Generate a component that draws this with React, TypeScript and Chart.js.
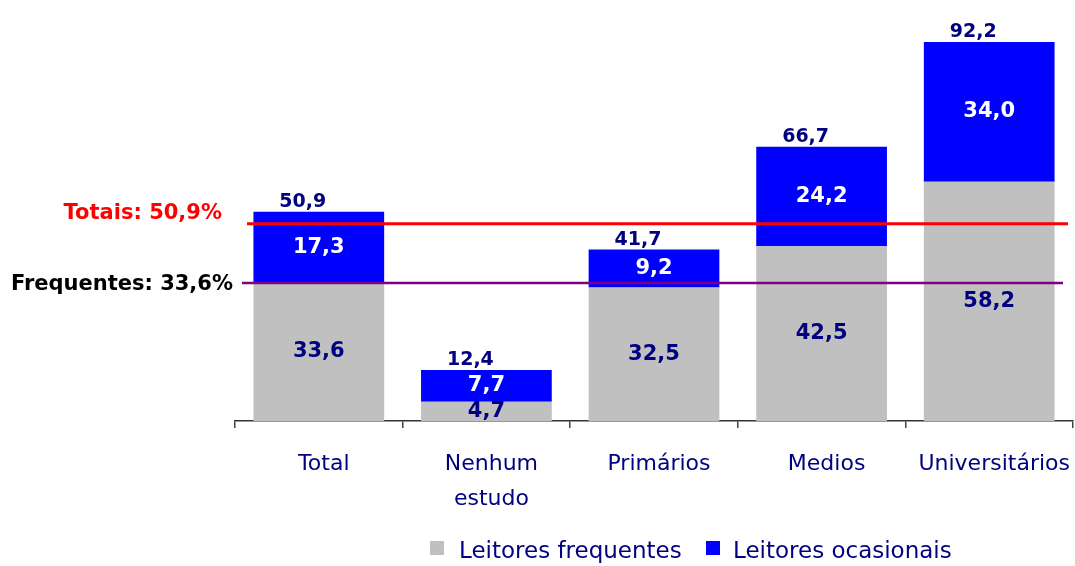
import React, { useEffect, useRef } from "react";
import { Chart, registerables } from "chart.js";

Chart.register(...registerables);

const categories = ["Total", "Nenhum estudo", "Primários", "Medios", "Universitários"];
const categoryLines = [["Total"], ["Nenhum", "estudo"], ["Primários"], ["Medios"], ["Universitários"]];
const frequentes = [33.6, 4.7, 32.5, 42.5, 58.2];
const ocasionais = [17.3, 7.7, 9.2, 24.2, 34.0];
const totals = [50.9, 12.4, 41.7, 66.7, 92.2];
const seriesNames = ["Leitores frequentes", "Leitores ocasionais"];
const totalLineValue = 48.0;
const frequentLineValue = 33.6;
const totalLineLabel = "Totais: 50,9%";
const frequentLineLabel = "Frequentes: 33,6%";

const GRAY = "#C0C0C0";
const BLUE = "#0000FF";
const NAVY = "#000080";
const FONT = "'DejaVu Sans', sans-serif";

const fmt = (v: number) => v.toFixed(1).replace(".", ",");

const overlay = {
  id: "overlay",
  afterDatasetsDraw(chart: any) {
    const ctx = chart.ctx;
    const x = chart.scales.x;
    const y = chart.scales.y;
    ctx.save();
    // segment labels
    ctx.textAlign = "center";
    ctx.textBaseline = "middle";
    ctx.font = `bold 21px ${FONT}`;
    [0, 1].forEach((di) => {
      const meta = chart.getDatasetMeta(di);
      meta.data.forEach((bar: any, i: number) => {
        const v = di === 0 ? frequentes[i] : ocasionais[i];
        ctx.fillStyle = di === 0 ? NAVY : "#FFFFFF";
        const cy = (bar.y + bar.base) / 2;
        ctx.fillText(fmt(v), bar.x, cy);
      });
    });
    // totals
    ctx.font = `bold 19px ${FONT}`;
    ctx.fillStyle = NAVY;
    ctx.textBaseline = "alphabetic";
    totals.forEach((t, i) => {
      const cx = x.getPixelForValue(i) - 16;
      ctx.fillText(fmt(t), cx, y.getPixelForValue(t) - 5);
    });
    // reference lines
    const yr = y.getPixelForValue(totalLineValue);
    ctx.strokeStyle = "#FF0000";
    ctx.lineWidth = 3;
    ctx.beginPath();
    ctx.moveTo(247, yr);
    ctx.lineTo(1068, yr);
    ctx.stroke();
    const yp = y.getPixelForValue(frequentLineValue);
    ctx.strokeStyle = "#800080";
    ctx.lineWidth = 2.5;
    ctx.beginPath();
    ctx.moveTo(242, yp);
    ctx.lineTo(1063, yp);
    ctx.stroke();
    ctx.font = `bold 21px ${FONT}`;
    ctx.textAlign = "right";
    ctx.textBaseline = "middle";
    ctx.fillStyle = "#FF0000";
    ctx.fillText(totalLineLabel, 222, yr - 10);
    ctx.fillStyle = "#000000";
    ctx.fillText(frequentLineLabel, 233, yp + 2);
    // category labels
    ctx.font = `22px ${FONT}`;
    ctx.fillStyle = NAVY;
    ctx.textAlign = "center";
    categoryLines.forEach((lines, i) => {
      const cx = x.getPixelForValue(i) + 5;
      lines.forEach((ln, k) => {
        ctx.fillText(ln, cx, 464 + k * 35);
      });
    });
    // legend
    ctx.textAlign = "left";
    ctx.fillStyle = GRAY;
    ctx.fillRect(430, 541, 14, 14);
    ctx.fillStyle = BLUE;
    ctx.fillRect(706, 541, 14, 14);
    ctx.fillStyle = NAVY;
    ctx.font = `23px ${FONT}`;
    ctx.fillText(seriesNames[0], 459, 552);
    ctx.fillText(seriesNames[1], 733, 552);
    ctx.restore();
  },
};

export default function App() {
  const ref = useRef<HTMLCanvasElement>(null);
  useEffect(() => {
    if (!ref.current) return;
    const chart = new Chart(ref.current, {
      type: "bar",
      data: {
        labels: categories,
        datasets: [
          { label: seriesNames[0], data: frequentes, backgroundColor: GRAY, borderWidth: 0, categoryPercentage: 1, barPercentage: 0.78 },
          { label: seriesNames[1], data: ocasionais, backgroundColor: BLUE, borderWidth: 0, categoryPercentage: 1, barPercentage: 0.78 },
        ],
      },
      options: {
        responsive: false,
        animation: false,
        layout: { padding: { left: 235, right: 2, top: 10, bottom: 138 } },
        plugins: { legend: { display: false }, tooltip: { enabled: false } },
        scales: {
          x: {
            stacked: true,
            offset: true,
            ticks: { display: false },
            grid: {
              display: true,
              offset: true,
              drawOnChartArea: false,
              drawTicks: true,
              tickLength: 7,
              color: "#444",
              lineWidth: 1.5,
            },
            border: { display: true, color: "#333", width: 1.5 },
          } as any,
          y: {
            stacked: true,
            display: false,
            min: 0,
            max: 100,
          },
        },
      } as any,
      plugins: [overlay],
    });
    return () => chart.destroy();
  }, []);
  return (
    <div style={{ position: "absolute", left: 0, top: 0, width: 1075, height: 566, background: "#fff" }}>
      <canvas ref={ref} width={1075} height={566} style={{ display: "block" }} />
    </div>
  );
}
